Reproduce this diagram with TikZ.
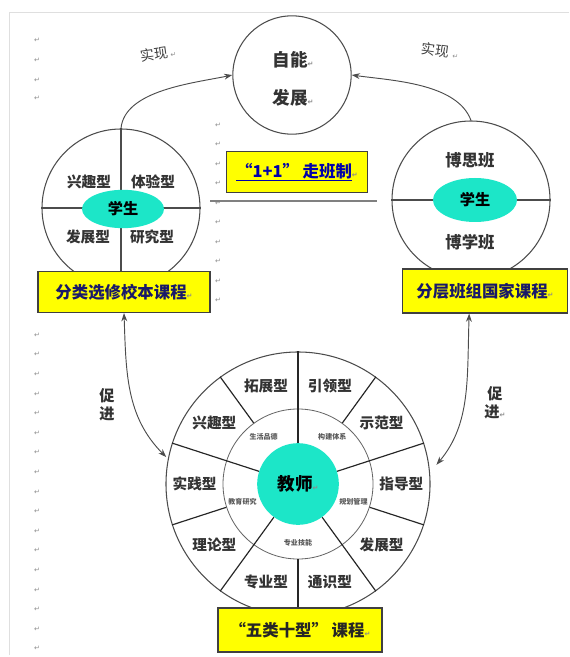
\documentclass[tikz,border=0pt]{standalone}
\usepackage{fontspec}
\setmainfont{Noto Sans CJK SC}
\newfontfamily\symfont{DejaVu Sans}
\usetikzlibrary{arrows.meta,calc,shapes.geometric}

\definecolor{tealfill}{RGB}{28,230,200}
\definecolor{boxyellow}{RGB}{255,255,0}
\definecolor{boxtext}{RGB}{25,25,105}
\definecolor{linkblue}{RGB}{0,0,170}
\newcommand{\rmk}{{\symfont\fontsize{6}{6}\selectfont\textcolor{black!45}{↵}}}

\begin{document}
\begin{tikzpicture}[x=0.03cm, y=-0.03cm,
  >={Stealth[length=7pt,width=5pt]},
  ring/.style={draw=black!70, line width=0.9pt, circle, fill=white, inner sep=0pt},
  core/.style={fill=tealfill, draw=none, ellipse, inner sep=0pt,
               font=\fontsize{13}{13}\selectfont\bfseries},
  lab/.style={font=\fontsize{12.5}{12.5}\selectfont\bfseries, text=black!80, inner sep=1pt},
  tiny/.style={font=\fontsize{6}{6}\selectfont\bfseries, text=black!65, inner sep=0pt},
  ybox/.style={draw=black!75, line width=1pt, fill=boxyellow, inner sep=2pt,
               font=\fontsize{14}{14}\selectfont\bfseries, text=boxtext},
  note/.style={font=\fontsize{12}{12}\selectfont, text=black!75},
  arr/.style={->, black!70, line width=0.8pt},
  darr/.style={<->, black!70, line width=0.8pt},
  spoke/.style={black!85, line width=1pt},
]
\useasboundingbox (0,0) rectangle (569,657);

%% page edge and Word return marks
\draw[gray!25] (9,655) -- (9,12) -- (569,12);
\foreach \y in {40,60,80,98} \node (mt\y) at (37,\y) {\rmk};
\foreach \i in {0,...,16} \node (ml\i) at (37,{335+19.6*\i}) {\rmk};
\foreach \i in {0,...,9} \node (mm\i) at (218,{125+19.5*\i}) {\rmk};

%% ═══ TOP: self development ═══
\node[ring, minimum size=3.55cm] (tc) at (292,75) {};
\node[lab, font=\fontsize{15}{15}\selectfont\bfseries] (tc1) at (293,60) {自能\rmk};
\node[lab, font=\fontsize{15}{15}\selectfont\bfseries] (tc2) at (293,98) {发展\rmk};

%% ═══ LEFT: elective courses ═══
\node[ring, minimum size=4.74cm] (lc) at (121,208) {};
\draw[black!70, line width=0.9pt] (lc.north) -- (lc.south);
\draw[black!70, line width=0.9pt] (lc.west) -- (lc.east);
\node[core, minimum width=2.46cm, minimum height=1.15cm] (lst) at (123,209) {学生};
\node[lab] (l1) at (89,182)  {兴趣型};
\node[lab] (l2) at (153,182) {体验型};
\node[lab] (l3) at (88,237)  {发展型};
\node[lab] (l4) at (152,237) {研究型};
\node[ybox, minimum width=5.16cm, minimum height=1.23cm] (lbox) at (124,292) {分类选修校本课程\rmk};

%% ═══ RIGHT: layered classes ═══
\node[ring, minimum size=4.74cm] (rc) at (471,200) {};
\draw[black!70, line width=0.9pt] (rc.west) -- (rc.east);
\node[core, minimum width=2.52cm, minimum height=1.32cm] (rst) at (475,200) {学生};
\node[lab, font=\fontsize{14}{14}\selectfont\bfseries] (r1) at (470,160) {博思班};
\node[lab, font=\fontsize{14}{14}\selectfont\bfseries] (r2) at (470,242) {博学班};
\node[ybox, minimum width=4.95cm, minimum height=1.32cm] (rbox) at (485,291) {分层班组国家课程\rmk};

%% middle "1+1" box
\node[ybox, minimum width=4.23cm, minimum height=1.23cm, text=linkblue] (mid) at (297,172)
    {\underline{“1+1” 走班制}\rmk};
\draw[black!50, line width=1pt] (210,201) -- (377,201);

%% ═══ BOTTOM: teacher wheel ═══
\node[ring, minimum size=7.92cm] (wh) at (298,484) {};
\node[circle, draw=black!60, line width=0.7pt, minimum size=4.5cm, inner sep=0pt] (wr) at (wh) {};
\node[circle, fill=tealfill, minimum size=2.45cm, inner sep=0pt,
      font=\fontsize{15}{15}\selectfont\bfseries] (wc) at (wh) {教师\rmk};
\foreach \a in {126,198,270,342,54} \draw[spoke] (wr.\a) -- (wh.\a);
\foreach \a in {90,162,234,306,18}  \draw[spoke] (wc.\a) -- (wh.\a);

% outer ring: ten types
\foreach \a/\t in {108/拓展型, 72/引领型, 144/兴趣型, 36/示范型, 180/实践型,
                   0/指导型, 216/理论型, 324/发展型, 252/专业型, 288/通识型}
  \node[lab] (o\a) at ($(wh)+(\a:3.1cm)$) {\t};

% inner ring: five classes
\foreach \a/\t in {126/生活品德, 54/构建体系, 198/教育研究, 342/规划管理, 270/专业技能}
  \node[tiny] (i\a) at ($(wh)+(\a:1.75cm)$) {\t};

\node[ybox, minimum width=4.92cm, minimum height=1.32cm, text=black!85] (bbox) at (300,630)
    {“五类十型” 课程\rmk};

%% ═══ connectors ═══
\draw[arr] (lc.north) to[out=85, in=192, looseness=0.8] (tc.west);
\node[note, rotate=8] (lt1) at (158,54) {实现\,\rmk};
\draw[arr] (rc.north) to[out=110, in=-8, looseness=0.8] (tc.east);
\node[note, rotate=-8] (rt1) at (440,51) {实现\;\rmk};

\draw[darr, shorten >=2pt] (lbox.south) to[out=-88, in=135] (wh.169);
\node[lab, align=center, font=\fontsize{13}{15}\selectfont\bfseries] (lp) at (107,405) {促\\进};
\draw[darr, shorten >=0.3cm] (rbox.-125) to[out=-92, in=50] (wh.5);
\node[lab, align=center, font=\fontsize{13}{15}\selectfont\bfseries] (rp) at (495,403) {促\\进\rmk};

\end{tikzpicture}
\end{document}
